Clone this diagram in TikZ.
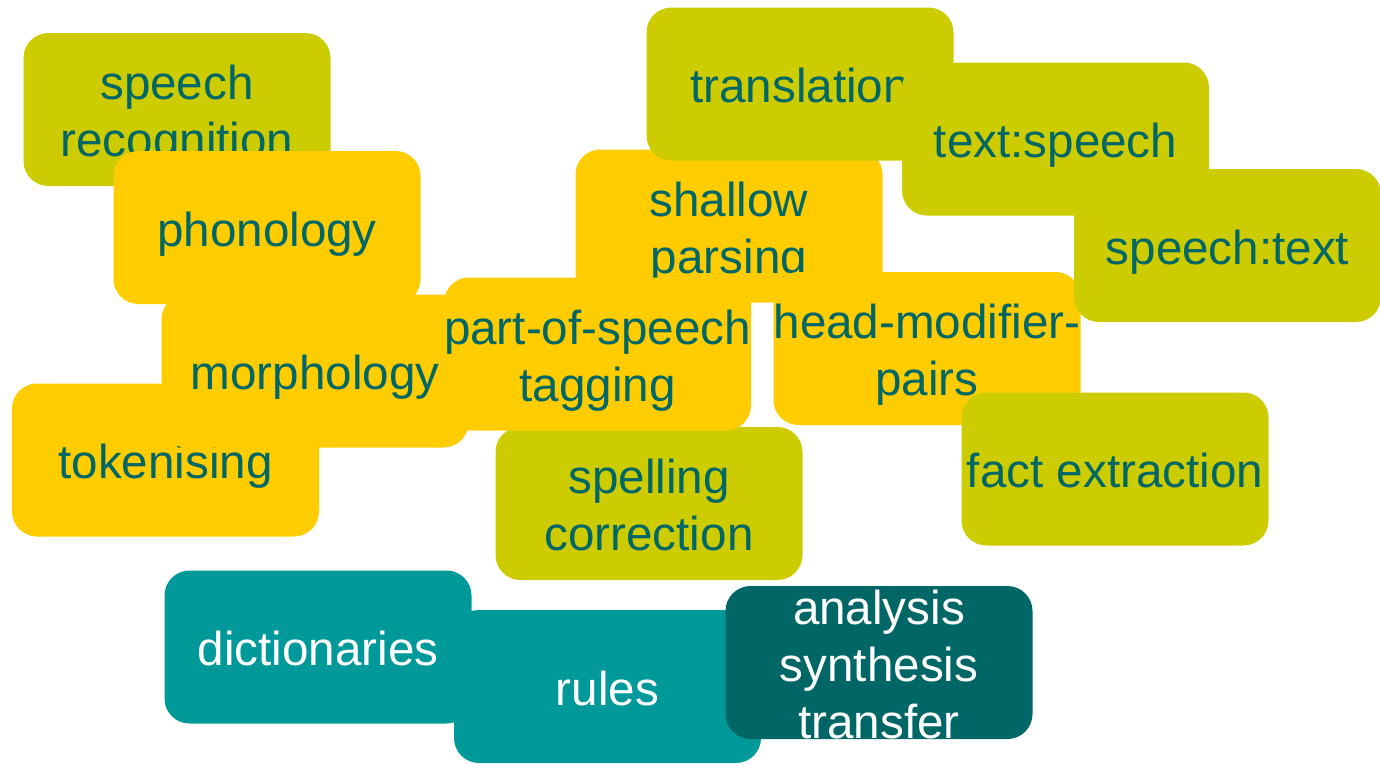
\documentclass[tikz,border=0pt]{standalone}
\usepackage{fontspec}
\setmainfont{Liberation Sans}
\definecolor{olivebox}{HTML}{CCCC00}
\definecolor{goldbox}{HTML}{FFCC00}
\definecolor{tealbox}{HTML}{009999}
\definecolor{darktealbox}{HTML}{006666}
\definecolor{inktext}{HTML}{006666}
\newcommand\bxl[1]{\makebox[0pt][c]{\rule[-10pt]{0pt}{57pt}#1}}
\newcommand\bxs[1]{\makebox[0pt][c]{\rule[-1pt]{0pt}{39pt}#1}}
\tikzset{
  tile/.style={rectangle, rounded corners=25pt, minimum width=307pt, minimum height=153pt,
    inner sep=0pt, outer sep=0pt, align=center, font=\fontsize{47.6}{57}\selectfont},
  olivetile/.style={tile, fill=olivebox, text=inktext},
  goldtile/.style={tile, fill=goldbox, text=inktext},
  tealtile/.style={tile, fill=tealbox, text=white},
  darktile/.style={tile, fill=darktealbox, text=white}
}
\begin{document}
\begin{tikzpicture}[x=1pt,y=-1pt]
\useasboundingbox (0,0) rectangle (1380,764);
\node[olivetile] (sr) at (177,109.5) {\bxl{speech}\\\bxl{recognition}};
\node[goldtile] (ph) at (267,227.5) {\bxl{phonology}};
\node[goldtile] (sp) at (729,226) {\bxl{shallow}\\\bxl{parsing}};
\node[olivetile] (tr) at (800,84) {\bxl{translation}};
\node[olivetile] (ts) at (1055.5,139) {\bxl{text:speech}};
\node[goldtile] (tk) at (165.5,460) {\bxl{tokenising}};
\node[goldtile] (mo) at (315,371) {\bxl{morphology}};
\node[olivetile] (sc) at (649,503.5) {\bxl{spelling}\\\bxl{correction}};
\node[goldtile] (pos) at (597.5,354) {\bxl{part-of-speech}\\\bxl{tagging}};
\node[goldtile] (hm) at (927,348.5) {\bxl{head-modifier-}\\\bxl{pairs}};
\node[olivetile] (st) at (1227.5,245.5) {\bxl{speech:text}};
\node[olivetile] (fe) at (1115,469) {\bxl{fact extraction}};
\node[tealtile] (di) at (318,647) {\bxl{dictionaries}};
\node[tealtile] (ru) at (607.5,686.5) {\bxl{rules}};
\node[darktile] (an) at (879,662.5) {\bxs{analysis}\\\bxs{synthesis}\\\bxs{transfer}};
\end{tikzpicture}
\end{document}
